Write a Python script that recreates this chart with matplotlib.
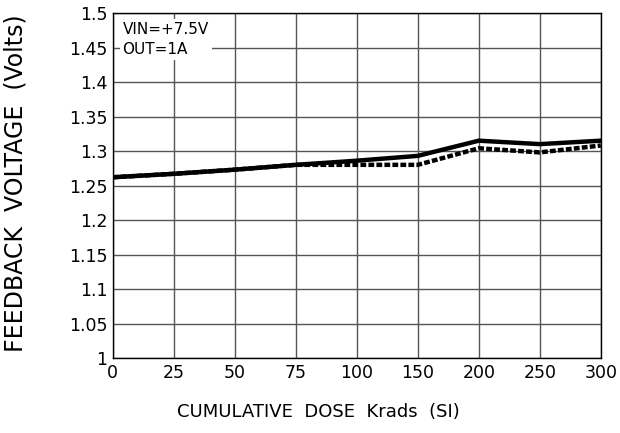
import matplotlib
matplotlib.use('Agg')
import matplotlib.pyplot as plt

doses = ['0', '25', '50', '75', '100', '150', '200', '250', '300']
solid_v = [1.262, 1.267, 1.273, 1.280, 1.286, 1.293, 1.315, 1.310, 1.315]
dashed_v = [1.262, 1.267, 1.273, 1.280, 1.280, 1.280, 1.304, 1.298, 1.308]
yticks = [1, 1.05, 1.1, 1.15, 1.2, 1.25, 1.3, 1.35, 1.4, 1.45, 1.5]
ytick_labels = ['1', '1.05', '1.1', '1.15', '1.2', '1.25', '1.3', '1.35', '1.4', '1.45', '1.5']

fig = plt.figure(figsize=(6.2, 4.33), dpi=100)
ax = fig.add_axes([0.182, 0.173, 0.787, 0.797])

x = list(range(len(doses)))
ax.plot(x, solid_v, color='black', lw=3.2, solid_joinstyle='miter', zorder=4)
ax.plot(x, dashed_v, color='black', lw=3.2, linestyle=(0, (1.3, 0.5)), zorder=3)

ax.set_xlim(0, len(doses) - 1)
ax.set_ylim(1, 1.5)
ax.set_xticks(x)
ax.set_xticklabels(doses)
ax.set_yticks(yticks)
ax.set_yticklabels(ytick_labels)
ax.tick_params(labelsize=12.5, length=0, pad=4)
ax.grid(True, color='#555555', lw=1.0)
for s in ax.spines.values():
    s.set_linewidth(1.0)

ax.text(0.02, 0.975, 'VIN=+7.5V\nOUT=1A', transform=ax.transAxes, fontsize=11,
        va='top', ha='left', linespacing=1.45,
        bbox=dict(facecolor='white', edgecolor='none', pad=2), zorder=5)

ax.set_xlabel('CUMULATIVE  DOSE  Krads  (SI)', fontsize=13)
ax.xaxis.set_label_coords(0.422, -0.13)
ax.set_ylabel('FEEDBACK  VOLTAGE  (Volts)', fontsize=17)
ax.yaxis.set_label_coords(-0.175, 0.507)

fig.savefig('out.png', dpi=100)
